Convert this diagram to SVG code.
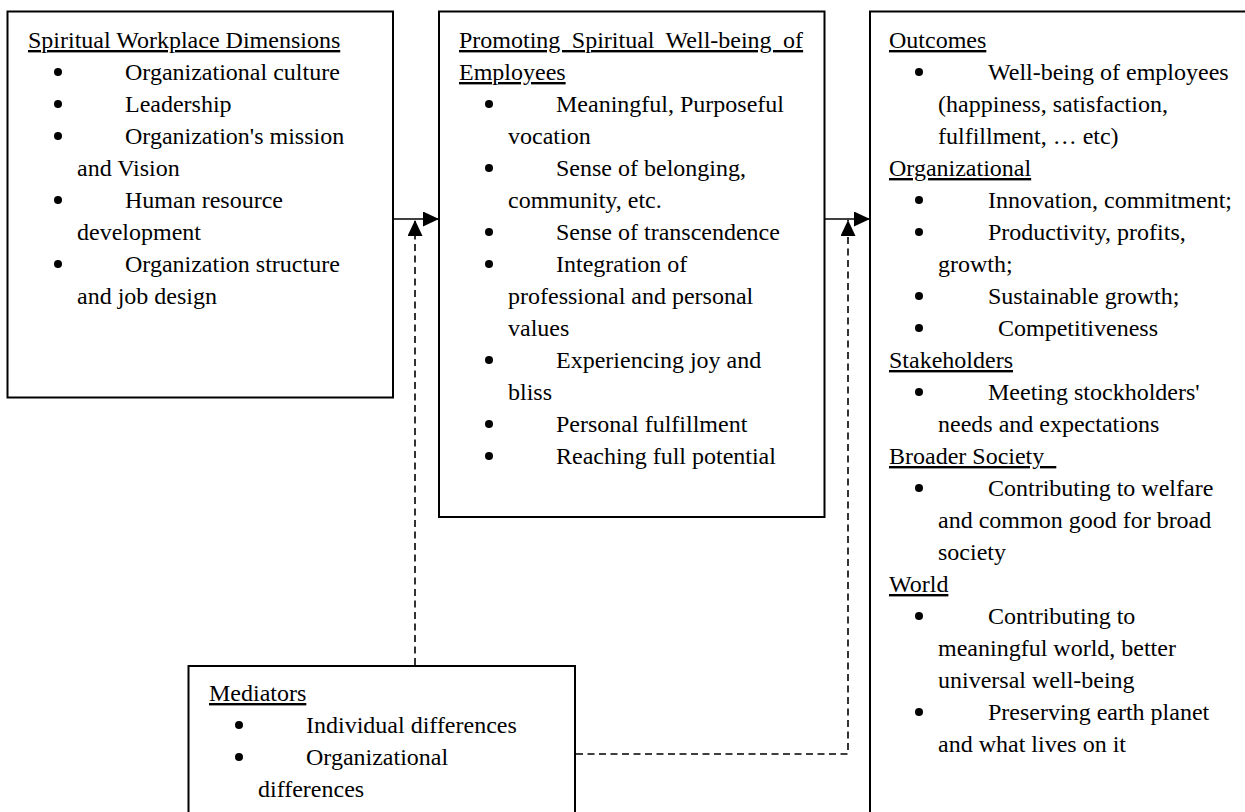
<svg xmlns="http://www.w3.org/2000/svg" width="1245" height="812" viewBox="0 0 1245 812">
<style>
.box{fill:#fff;stroke:#000;stroke-width:2}
text{font-family:"Liberation Serif","Times New Roman",serif;font-size:24px;fill:#000}
.u{text-decoration:underline}
.b{fill:#000}
.con{fill:none;stroke:#000;stroke-width:1.6}
.dash{stroke-dasharray:7 4.5}
</style>
<defs>
<marker id="ah" markerUnits="userSpaceOnUse" markerWidth="17" markerHeight="16" refX="16" refY="7.5" orient="auto">
<path d="M0,0 L16,7.5 L0,15 Z" fill="#000"/>
</marker>
</defs>
<rect width="1245" height="812" fill="#fff"/>
<g id="dimensions">
<rect class="box" x="7.5" y="11.5" width="385.5" height="386"/>
<text class="u" x="28" y="48">Spiritual Workplace Dimensions</text>
<circle class="b" cx="58" cy="72" r="4"/><text x="125" y="80">Organizational culture</text>
<circle class="b" cx="58" cy="104" r="4"/><text x="125" y="112">Leadership</text>
<circle class="b" cx="58" cy="136" r="4"/><text x="125" y="144">Organization's mission</text>
<text x="77" y="176">and Vision</text>
<circle class="b" cx="58" cy="200" r="4"/><text x="125" y="208">Human resource</text>
<text x="77" y="240">development</text>
<circle class="b" cx="58" cy="264" r="4"/><text x="125" y="272">Organization structure</text>
<text x="77" y="304">and job design</text>
</g>
<g id="wellbeing">
<rect class="box" x="439" y="11.5" width="385.5" height="505.5"/>
<text class="u" x="459" y="48" word-spacing="5.5">Promoting Spiritual Well-being of</text>
<text class="u" x="459" y="80">Employees</text>
<circle class="b" cx="489" cy="104" r="4"/><text x="556" y="112">Meaningful, Purposeful</text>
<text x="508" y="144">vocation</text>
<circle class="b" cx="489" cy="168" r="4"/><text x="556" y="176">Sense of belonging,</text>
<text x="508" y="208">community, etc.</text>
<circle class="b" cx="489" cy="232" r="4"/><text x="556" y="240">Sense of transcendence</text>
<circle class="b" cx="489" cy="264" r="4"/><text x="556" y="272">Integration of</text>
<text x="508" y="304">professional and personal</text>
<text x="508" y="336">values</text>
<circle class="b" cx="489" cy="360" r="4"/><text x="556" y="368">Experiencing joy and</text>
<text x="508" y="400">bliss</text>
<circle class="b" cx="489" cy="424" r="4"/><text x="556" y="432">Personal fulfillment</text>
<circle class="b" cx="489" cy="456" r="4"/><text x="556" y="464">Reaching full potential</text>
</g>
<g id="outcomes">
<rect class="box" x="870" y="11.5" width="420" height="850"/>
<text class="u" x="889" y="48">Outcomes</text>
<circle class="b" cx="919" cy="72" r="4"/><text x="988" y="80">Well-being of employees</text>
<text x="938" y="112">(happiness, satisfaction,</text>
<text x="938" y="144">fulfillment, … etc)</text>
<text class="u" x="889" y="176">Organizational</text>
<circle class="b" cx="919" cy="200" r="4"/><text x="988" y="208">Innovation, commitment;</text>
<circle class="b" cx="919" cy="232" r="4"/><text x="988" y="240">Productivity, profits,</text>
<text x="938" y="272">growth;</text>
<circle class="b" cx="919" cy="296" r="4"/><text x="988" y="304">Sustainable growth;</text>
<circle class="b" cx="919" cy="328" r="4"/><text x="998" y="336">Competitiveness</text>
<text class="u" x="889" y="368">Stakeholders</text>
<circle class="b" cx="919" cy="392" r="4"/><text x="988" y="400">Meeting stockholders'</text>
<text x="938" y="432">needs and expectations</text>
<text class="u" x="889" y="464" xml:space="preserve">Broader Society  </text>
<circle class="b" cx="919" cy="488" r="4"/><text x="988" y="496">Contributing to welfare</text>
<text x="938" y="528">and common good for broad</text>
<text x="938" y="560">society</text>
<text class="u" x="889" y="592">World</text>
<circle class="b" cx="919" cy="616" r="4"/><text x="988" y="624">Contributing to</text>
<text x="938" y="656">meaningful world, better</text>
<text x="938" y="688">universal well-being</text>
<circle class="b" cx="919" cy="712" r="4"/><text x="988" y="720">Preserving earth planet</text>
<text x="938" y="752">and what lives on it</text>
</g>
<g id="mediators">
<rect class="box" x="188.5" y="666" width="386.5" height="200"/>
<text class="u" x="209" y="701">Mediators</text>
<circle class="b" cx="239" cy="725" r="4"/><text x="306" y="733">Individual differences</text>
<circle class="b" cx="239" cy="757" r="4"/><text x="306" y="765">Organizational</text>
<text x="258" y="797">differences</text>
</g>
<g id="connectors">
<path class="con" d="M393,219 H439" marker-end="url(#ah)"/>
<path class="con" d="M824.5,219 H870" marker-end="url(#ah)"/>
<path class="con dash" d="M415,665 V220" marker-end="url(#ah)"/>
<path class="con dash" d="M576,754 H848 V220" marker-end="url(#ah)"/>
</g>
</svg>
